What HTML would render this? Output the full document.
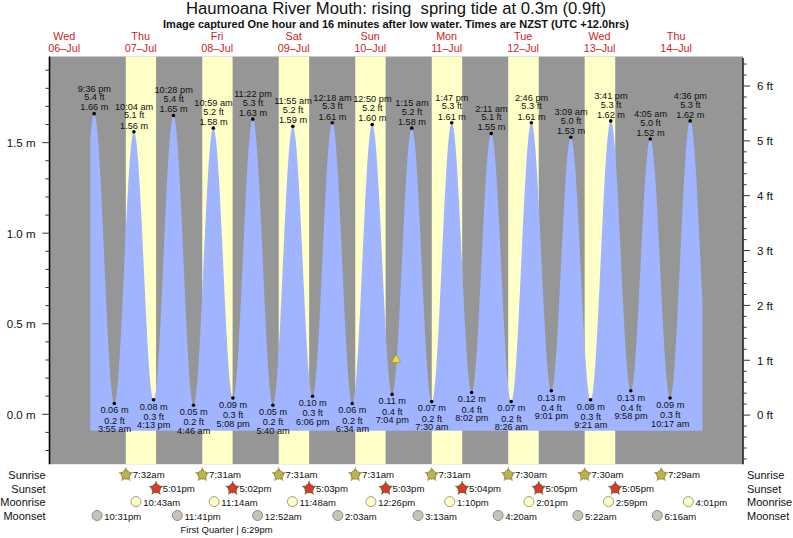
<!DOCTYPE html>
<html><head><meta charset="utf-8"><style>
html,body{margin:0;padding:0;background:#fff;width:793px;height:538px;overflow:hidden}
svg text{font-family:"Liberation Sans",sans-serif}
</style></head><body>
<svg width="793" height="538" viewBox="0 0 793 538" style="display:block">
<rect x="0" y="0" width="793" height="538" fill="#fff"/>
<rect x="50" y="56.5" width="693" height="407.7" fill="#969696"/>
<rect x="125.83" y="56.5" width="30.23" height="407.7" fill="#ffffc8"/>
<rect x="202.27" y="56.5" width="30.33" height="407.7" fill="#ffffc8"/>
<rect x="278.77" y="56.5" width="30.38" height="407.7" fill="#ffffc8"/>
<rect x="355.26" y="56.5" width="30.38" height="407.7" fill="#ffffc8"/>
<rect x="431.75" y="56.5" width="30.44" height="407.7" fill="#ffffc8"/>
<rect x="508.19" y="56.5" width="30.54" height="407.7" fill="#ffffc8"/>
<rect x="584.68" y="56.5" width="30.54" height="407.7" fill="#ffffc8"/>
<path d="M90.20,430.8 L90.20,140.10 L90.47,136.79 L90.73,133.67 L91.00,130.76 L91.26,128.07 L91.53,125.60 L91.79,123.35 L92.06,121.33 L92.33,119.54 L92.59,117.98 L92.86,116.66 L93.12,115.58 L93.39,114.74 L93.65,114.14 L93.92,113.79 L94.18,113.67 L94.45,113.81 L94.72,114.19 L94.98,114.82 L95.25,115.70 L95.51,116.83 L95.78,118.19 L96.04,119.80 L96.31,121.65 L96.58,123.73 L96.84,126.05 L97.11,128.59 L97.37,131.35 L97.64,134.33 L97.90,137.53 L98.17,140.94 L98.43,144.54 L98.70,148.34 L98.97,152.34 L99.23,156.51 L99.50,160.86 L99.76,165.38 L100.03,170.06 L100.29,174.88 L100.56,179.86 L100.83,184.97 L101.09,190.20 L101.36,195.55 L101.62,201.01 L101.89,206.57 L102.15,212.22 L102.42,217.95 L102.69,223.75 L102.95,229.61 L103.22,235.52 L103.48,241.46 L103.75,247.44 L104.01,253.43 L104.28,259.44 L104.54,265.44 L104.81,271.43 L105.08,277.40 L105.34,283.34 L105.61,289.23 L105.87,295.07 L106.14,300.85 L106.40,306.56 L106.67,312.18 L106.94,317.71 L107.20,323.14 L107.47,328.46 L107.73,333.66 L108.00,338.73 L108.26,343.66 L108.53,348.45 L108.79,353.08 L109.06,357.55 L109.33,361.85 L109.59,365.97 L109.86,369.90 L110.12,373.65 L110.39,377.20 L110.65,380.54 L110.92,383.68 L111.19,386.59 L111.45,389.29 L111.72,391.77 L111.98,394.01 L112.25,396.03 L112.51,397.80 L112.78,399.34 L113.05,400.64 L113.31,401.69 L113.58,402.50 L113.84,403.05 L114.11,403.36 L114.37,403.43 L114.64,403.24 L114.90,402.81 L115.17,402.13 L115.44,401.21 L115.70,400.05 L115.97,398.65 L116.23,397.01 L116.50,395.13 L116.76,393.03 L117.03,390.70 L117.30,388.14 L117.56,385.37 L117.83,382.38 L118.09,379.18 L118.36,375.79 L118.62,372.19 L118.89,368.41 L119.15,364.44 L119.42,360.30 L119.69,355.99 L119.95,351.52 L120.22,346.90 L120.48,342.13 L120.75,337.23 L121.01,332.21 L121.28,327.06 L121.55,321.81 L121.81,316.46 L122.08,311.02 L122.34,305.50 L122.61,299.92 L122.87,294.27 L123.14,288.58 L123.40,282.85 L123.67,277.09 L123.94,271.32 L124.20,265.54 L124.47,259.76 L124.73,253.99 L125.00,248.25 L125.26,242.55 L125.53,236.89 L125.80,231.29 L126.06,225.75 L126.33,220.29 L126.59,214.91 L126.86,209.63 L127.12,204.45 L127.39,199.39 L127.66,194.46 L127.92,189.65 L128.19,184.99 L128.45,180.47 L128.72,176.12 L128.98,171.93 L129.25,167.91 L129.51,164.08 L129.78,160.43 L130.05,156.97 L130.31,153.72 L130.58,150.67 L130.84,147.84 L131.11,145.22 L131.37,142.83 L131.64,140.65 L131.91,138.72 L132.17,137.01 L132.44,135.54 L132.70,134.31 L132.97,133.32 L133.23,132.57 L133.50,132.07 L133.76,131.82 L134.03,131.81 L134.30,132.04 L134.56,132.52 L134.83,133.24 L135.09,134.20 L135.36,135.39 L135.62,136.83 L135.89,138.49 L136.16,140.39 L136.42,142.52 L136.69,144.87 L136.95,147.43 L137.22,150.22 L137.48,153.21 L137.75,156.40 L138.02,159.80 L138.28,163.38 L138.55,167.15 L138.81,171.10 L139.08,175.23 L139.34,179.51 L139.61,183.96 L139.87,188.55 L140.14,193.28 L140.41,198.14 L140.67,203.12 L140.94,208.22 L141.20,213.43 L141.47,218.72 L141.73,224.11 L142.00,229.57 L142.27,235.09 L142.53,240.67 L142.80,246.30 L143.06,251.96 L143.33,257.64 L143.59,263.34 L143.86,269.05 L144.12,274.75 L144.39,280.43 L144.66,286.09 L144.92,291.71 L145.19,297.28 L145.45,302.80 L145.72,308.24 L145.98,313.62 L146.25,318.90 L146.52,324.09 L146.78,329.17 L147.05,334.14 L147.31,338.99 L147.58,343.70 L147.84,348.27 L148.11,352.69 L148.38,356.95 L148.64,361.05 L148.91,364.98 L149.17,368.73 L149.44,372.28 L149.70,375.65 L149.97,378.82 L150.23,381.78 L150.50,384.53 L150.77,387.07 L151.03,389.39 L151.30,391.48 L151.56,393.35 L151.83,394.98 L152.09,396.38 L152.36,397.55 L152.63,398.47 L152.89,399.16 L153.16,399.60 L153.42,399.80 L153.69,399.76 L153.95,399.46 L154.22,398.92 L154.48,398.13 L154.75,397.09 L155.02,395.81 L155.28,394.29 L155.55,392.53 L155.81,390.53 L156.08,388.29 L156.34,385.83 L156.61,383.14 L156.88,380.23 L157.14,377.11 L157.41,373.78 L157.67,370.24 L157.94,366.51 L158.20,362.58 L158.47,358.48 L158.74,354.19 L159.00,349.73 L159.27,345.12 L159.53,340.35 L159.80,335.43 L160.06,330.38 L160.33,325.20 L160.59,319.90 L160.86,314.49 L161.13,308.99 L161.39,303.39 L161.66,297.71 L161.92,291.96 L162.19,286.16 L162.45,280.30 L162.72,274.40 L162.99,268.47 L163.25,262.53 L163.52,256.57 L163.78,250.62 L164.05,244.68 L164.31,238.76 L164.58,232.87 L164.84,227.03 L165.11,221.25 L165.38,215.52 L165.64,209.87 L165.91,204.31 L166.17,198.83 L166.44,193.47 L166.70,188.21 L166.97,183.07 L167.24,178.07 L167.50,173.21 L167.77,168.49 L168.03,163.93 L168.30,159.54 L168.56,155.31 L168.83,151.27 L169.10,147.41 L169.36,143.75 L169.63,140.29 L169.89,137.03 L170.16,133.99 L170.42,131.16 L170.69,128.55 L170.95,126.17 L171.22,124.02 L171.49,122.11 L171.75,120.43 L172.02,118.99 L172.28,117.80 L172.55,116.85 L172.81,116.15 L173.08,115.70 L173.35,115.50 L173.61,115.54 L173.88,115.84 L174.14,116.39 L174.41,117.18 L174.67,118.22 L174.94,119.51 L175.20,121.04 L175.47,122.82 L175.74,124.82 L176.00,127.07 L176.27,129.54 L176.53,132.24 L176.80,135.16 L177.06,138.30 L177.33,141.65 L177.60,145.20 L177.86,148.95 L178.13,152.90 L178.39,157.03 L178.66,161.33 L178.92,165.81 L179.19,170.46 L179.46,175.26 L179.72,180.20 L179.99,185.28 L180.25,190.50 L180.52,195.83 L180.78,201.28 L181.05,206.82 L181.31,212.46 L181.58,218.19 L181.85,223.98 L182.11,229.84 L182.38,235.75 L182.64,241.70 L182.91,247.69 L183.17,253.70 L183.44,259.72 L183.71,265.74 L183.97,271.75 L184.24,277.74 L184.50,283.70 L184.77,289.62 L185.03,295.49 L185.30,301.30 L185.56,307.04 L185.83,312.70 L186.10,318.27 L186.36,323.73 L186.63,329.09 L186.89,334.33 L187.16,339.45 L187.42,344.42 L187.69,349.25 L187.96,353.93 L188.22,358.44 L188.49,362.79 L188.75,366.96 L189.02,370.94 L189.28,374.74 L189.55,378.33 L189.81,381.73 L190.08,384.91 L190.35,387.88 L190.61,390.63 L190.88,393.15 L191.14,395.44 L191.41,397.50 L191.67,399.32 L191.94,400.91 L192.21,402.25 L192.47,403.34 L192.74,404.19 L193.00,404.79 L193.27,405.14 L193.53,405.24 L193.80,405.10 L194.07,404.70 L194.33,404.07 L194.60,403.19 L194.86,402.06 L195.13,400.70 L195.39,399.10 L195.66,397.26 L195.92,395.20 L196.19,392.90 L196.46,390.38 L196.72,387.65 L196.99,384.69 L197.25,381.53 L197.52,378.16 L197.78,374.60 L198.05,370.85 L198.32,366.91 L198.58,362.79 L198.85,358.50 L199.11,354.05 L199.38,349.45 L199.64,344.69 L199.91,339.80 L200.17,334.78 L200.44,329.64 L200.71,324.39 L200.97,319.04 L201.24,313.59 L201.50,308.06 L201.77,302.45 L202.03,296.78 L202.30,291.06 L202.57,285.30 L202.83,279.50 L203.10,273.68 L203.36,267.85 L203.63,262.02 L203.89,256.19 L204.16,250.38 L204.43,244.60 L204.69,238.86 L204.96,233.18 L205.22,227.54 L205.49,221.98 L205.75,216.50 L206.02,211.11 L206.28,205.82 L206.55,200.63 L206.82,195.56 L207.08,190.62 L207.35,185.81 L207.61,181.15 L207.88,176.63 L208.14,172.28 L208.41,168.10 L208.68,164.09 L208.94,160.26 L209.21,156.62 L209.47,153.18 L209.74,149.93 L210.00,146.90 L210.27,144.07 L210.53,141.47 L210.80,139.08 L211.07,136.93 L211.33,135.00 L211.60,133.31 L211.86,131.85 L212.13,130.63 L212.39,129.66 L212.66,128.92 L212.93,128.44 L213.19,128.19 L213.46,128.19 L213.72,128.44 L213.99,128.93 L214.25,129.66 L214.52,130.64 L214.79,131.86 L215.05,133.31 L215.32,135.00 L215.58,136.92 L215.85,139.07 L216.11,141.44 L216.38,144.04 L216.64,146.85 L216.91,149.87 L217.18,153.10 L217.44,156.52 L217.71,160.14 L217.97,163.95 L218.24,167.93 L218.50,172.09 L218.77,176.41 L219.04,180.89 L219.30,185.52 L219.57,190.29 L219.83,195.19 L220.10,200.21 L220.36,205.35 L220.63,210.59 L220.89,215.93 L221.16,221.35 L221.43,226.85 L221.69,232.42 L221.96,238.04 L222.22,243.70 L222.49,249.40 L222.75,255.13 L223.02,260.87 L223.29,266.61 L223.55,272.35 L223.82,278.07 L224.08,283.76 L224.35,289.42 L224.61,295.03 L224.88,300.58 L225.15,306.06 L225.41,311.46 L225.68,316.78 L225.94,322.00 L226.21,327.11 L226.47,332.11 L226.74,336.98 L227.00,341.72 L227.27,346.31 L227.54,350.76 L227.80,355.04 L228.07,359.16 L228.33,363.11 L228.60,366.87 L228.86,370.44 L229.13,373.82 L229.40,377.00 L229.66,379.98 L229.93,382.74 L230.19,385.28 L230.46,387.61 L230.72,389.70 L230.99,391.57 L231.25,393.21 L231.52,394.61 L231.79,395.77 L232.05,396.69 L232.32,397.37 L232.58,397.80 L232.85,397.99 L233.11,397.94 L233.38,397.64 L233.65,397.09 L233.91,396.30 L234.18,395.27 L234.44,393.99 L234.71,392.48 L234.97,390.73 L235.24,388.75 L235.51,386.54 L235.77,384.10 L236.04,381.44 L236.30,378.56 L236.57,375.48 L236.83,372.18 L237.10,368.69 L237.36,365.00 L237.63,361.12 L237.90,357.06 L238.16,352.83 L238.43,348.43 L238.69,343.88 L238.96,339.17 L239.22,334.32 L239.49,329.34 L239.76,324.23 L240.02,319.01 L240.29,313.68 L240.55,308.25 L240.82,302.73 L241.08,297.14 L241.35,291.48 L241.61,285.76 L241.88,279.99 L242.15,274.19 L242.41,268.35 L242.68,262.50 L242.94,256.65 L243.21,250.79 L243.47,244.95 L243.74,239.14 L244.01,233.35 L244.27,227.62 L244.54,221.93 L244.80,216.32 L245.07,210.77 L245.33,205.31 L245.60,199.95 L245.86,194.69 L246.13,189.54 L246.40,184.51 L246.66,179.61 L246.93,174.85 L247.19,170.24 L247.46,165.79 L247.72,161.50 L247.99,157.38 L248.26,153.44 L248.52,149.68 L248.79,146.12 L249.05,142.76 L249.32,139.60 L249.58,136.65 L249.85,133.91 L250.12,131.39 L250.38,129.10 L250.65,127.04 L250.91,125.21 L251.18,123.61 L251.44,122.26 L251.71,121.14 L251.97,120.26 L252.24,119.63 L252.51,119.25 L252.77,119.11 L253.04,119.21 L253.30,119.57 L253.57,120.17 L253.83,121.01 L254.10,122.10 L254.37,123.43 L254.63,125.00 L254.90,126.81 L255.16,128.85 L255.43,131.12 L255.69,133.62 L255.96,136.34 L256.22,139.28 L256.49,142.43 L256.76,145.78 L257.02,149.34 L257.29,153.09 L257.55,157.03 L257.82,161.16 L258.08,165.45 L258.35,169.92 L258.62,174.54 L258.88,179.31 L259.15,184.23 L259.41,189.28 L259.68,194.46 L259.94,199.76 L260.21,205.16 L260.48,210.66 L260.74,216.25 L261.01,221.92 L261.27,227.66 L261.54,233.46 L261.80,239.31 L262.07,245.19 L262.33,251.11 L262.60,257.05 L262.87,262.99 L263.13,268.93 L263.40,274.87 L263.66,280.78 L263.93,286.66 L264.19,292.49 L264.46,298.27 L264.73,304.00 L264.99,309.64 L265.26,315.21 L265.52,320.69 L265.79,326.06 L266.05,331.32 L266.32,336.47 L266.58,341.48 L266.85,346.36 L267.12,351.10 L267.38,355.68 L267.65,360.10 L267.91,364.34 L268.18,368.42 L268.44,372.31 L268.71,376.01 L268.98,379.51 L269.24,382.81 L269.51,385.90 L269.77,388.78 L270.04,391.44 L270.30,393.87 L270.57,396.08 L270.84,398.06 L271.10,399.80 L271.37,401.31 L271.63,402.57 L271.90,403.60 L272.16,404.37 L272.43,404.91 L272.69,405.19 L272.96,405.23 L273.23,405.02 L273.49,404.57 L273.76,403.88 L274.02,402.94 L274.29,401.77 L274.55,400.35 L274.82,398.70 L275.09,396.81 L275.35,394.70 L275.62,392.36 L275.88,389.79 L276.15,387.01 L276.41,384.02 L276.68,380.82 L276.94,377.42 L277.21,373.82 L277.48,370.03 L277.74,366.06 L278.01,361.91 L278.27,357.60 L278.54,353.12 L278.80,348.49 L279.07,343.71 L279.34,338.80 L279.60,333.76 L279.87,328.60 L280.13,323.33 L280.40,317.96 L280.66,312.50 L280.93,306.96 L281.20,301.34 L281.46,295.66 L281.73,289.93 L281.99,284.16 L282.26,278.35 L282.52,272.52 L282.79,266.68 L283.05,260.84 L283.32,255.01 L283.59,249.20 L283.85,243.41 L284.12,237.67 L284.38,231.97 L284.65,226.34 L284.91,220.77 L285.18,215.28 L285.45,209.88 L285.71,204.58 L285.98,199.39 L286.24,194.31 L286.51,189.36 L286.77,184.54 L287.04,179.87 L287.30,175.34 L287.57,170.98 L287.84,166.78 L288.10,162.75 L288.37,158.91 L288.63,155.25 L288.90,151.79 L289.16,148.52 L289.43,145.47 L289.70,142.62 L289.96,139.99 L290.23,137.58 L290.49,135.40 L290.76,133.44 L291.02,131.72 L291.29,130.23 L291.56,128.98 L291.82,127.97 L292.09,127.21 L292.35,126.68 L292.62,126.40 L292.88,126.37 L293.15,126.57 L293.41,127.02 L293.68,127.71 L293.95,128.64 L294.21,129.80 L294.48,131.21 L294.74,132.84 L295.01,134.71 L295.27,136.80 L295.54,139.11 L295.81,141.65 L296.07,144.40 L296.34,147.35 L296.60,150.52 L296.87,153.88 L297.13,157.43 L297.40,161.17 L297.66,165.09 L297.93,169.18 L298.20,173.44 L298.46,177.85 L298.73,182.42 L298.99,187.12 L299.26,191.96 L299.52,196.92 L299.79,202.00 L300.06,207.19 L300.32,212.47 L300.59,217.84 L300.85,223.28 L301.12,228.80 L301.38,234.37 L301.65,239.99 L301.92,245.65 L302.18,251.34 L302.45,257.04 L302.71,262.75 L302.98,268.46 L303.24,274.16 L303.51,279.83 L303.77,285.48 L304.04,291.07 L304.31,296.62 L304.57,302.10 L304.84,307.50 L305.10,312.83 L305.37,318.06 L305.63,323.19 L305.90,328.21 L306.17,333.11 L306.43,337.88 L306.70,342.51 L306.96,347.00 L307.23,351.33 L307.49,355.50 L307.76,359.51 L308.02,363.33 L308.29,366.98 L308.56,370.43 L308.82,373.69 L309.09,376.75 L309.35,379.60 L309.62,382.24 L309.88,384.66 L310.15,386.86 L310.42,388.83 L310.68,390.58 L310.95,392.09 L311.21,393.37 L311.48,394.42 L311.74,395.22 L312.01,395.78 L312.27,396.11 L312.54,396.19 L312.81,396.02 L313.07,395.62 L313.34,394.97 L313.60,394.08 L313.87,392.95 L314.13,391.58 L314.40,389.98 L314.67,388.14 L314.93,386.07 L315.20,383.78 L315.46,381.27 L315.73,378.54 L315.99,375.60 L316.26,372.44 L316.53,369.09 L316.79,365.55 L317.06,361.81 L317.32,357.89 L317.59,353.80 L317.85,349.53 L318.12,345.11 L318.38,340.53 L318.65,335.81 L318.92,330.96 L319.18,325.97 L319.45,320.87 L319.71,315.66 L319.98,310.34 L320.24,304.94 L320.51,299.46 L320.78,293.90 L321.04,288.28 L321.31,282.61 L321.57,276.90 L321.84,271.16 L322.10,265.40 L322.37,259.63 L322.63,253.86 L322.90,248.09 L323.17,242.35 L323.43,236.64 L323.70,230.97 L323.96,225.35 L324.23,219.79 L324.49,214.30 L324.76,208.89 L325.03,203.57 L325.29,198.35 L325.56,193.24 L325.82,188.25 L326.09,183.39 L326.35,178.66 L326.62,174.07 L326.89,169.64 L327.15,165.37 L327.42,161.26 L327.68,157.33 L327.95,153.59 L328.21,150.03 L328.48,146.66 L328.74,143.50 L329.01,140.55 L329.28,137.80 L329.54,135.28 L329.81,132.97 L330.07,130.89 L330.34,129.04 L330.60,127.42 L330.87,126.04 L331.14,124.90 L331.40,123.99 L331.67,123.33 L331.93,122.91 L332.20,122.74 L332.46,122.80 L332.73,123.12 L332.99,123.67 L333.26,124.47 L333.53,125.51 L333.79,126.80 L334.06,128.32 L334.32,130.07 L334.59,132.06 L334.85,134.28 L335.12,136.72 L335.39,139.38 L335.65,142.26 L335.92,145.35 L336.18,148.64 L336.45,152.13 L336.71,155.82 L336.98,159.70 L337.25,163.75 L337.51,167.98 L337.78,172.37 L338.04,176.93 L338.31,181.63 L338.57,186.48 L338.84,191.46 L339.10,196.56 L339.37,201.78 L339.64,207.11 L339.90,212.53 L340.17,218.05 L340.43,223.64 L340.70,229.30 L340.96,235.02 L341.23,240.79 L341.50,246.59 L341.76,252.43 L342.03,258.29 L342.29,264.15 L342.56,270.01 L342.82,275.86 L343.09,281.69 L343.35,287.48 L343.62,293.23 L343.89,298.93 L344.15,304.57 L344.42,310.13 L344.68,315.62 L344.95,321.01 L345.21,326.30 L345.48,331.48 L345.75,336.54 L346.01,341.47 L346.28,346.26 L346.54,350.91 L346.81,355.41 L347.07,359.74 L347.34,363.91 L347.61,367.90 L347.87,371.71 L348.14,375.32 L348.40,378.75 L348.67,381.97 L348.93,384.98 L349.20,387.78 L349.46,390.36 L349.73,392.72 L350.00,394.85 L350.26,396.76 L350.53,398.43 L350.79,399.86 L351.06,401.06 L351.32,402.01 L351.59,402.72 L351.86,403.19 L352.12,403.41 L352.39,403.39 L352.65,403.13 L352.92,402.62 L353.18,401.87 L353.45,400.88 L353.71,399.65 L353.98,398.18 L354.25,396.48 L354.51,394.55 L354.78,392.39 L355.04,390.01 L355.31,387.41 L355.57,384.59 L355.84,381.56 L356.11,378.32 L356.37,374.89 L356.64,371.26 L356.90,367.45 L357.17,363.45 L357.43,359.28 L357.70,354.95 L357.97,350.45 L358.23,345.81 L358.50,341.02 L358.76,336.09 L359.03,331.05 L359.29,325.88 L359.56,320.61 L359.82,315.23 L360.09,309.77 L360.36,304.23 L360.62,298.62 L360.89,292.95 L361.15,287.22 L361.42,281.46 L361.68,275.67 L361.95,269.85 L362.22,264.03 L362.48,258.20 L362.75,252.39 L363.01,246.59 L363.28,240.83 L363.54,235.10 L363.81,229.43 L364.07,223.82 L364.34,218.27 L364.61,212.81 L364.87,207.44 L365.14,202.16 L365.40,197.00 L365.67,191.95 L365.93,187.02 L366.20,182.23 L366.47,177.58 L366.73,173.09 L367.00,168.75 L367.26,164.58 L367.53,160.58 L367.79,156.76 L368.06,153.13 L368.32,149.70 L368.59,146.46 L368.86,143.43 L369.12,140.60 L369.39,138.00 L369.65,135.61 L369.92,133.45 L370.18,131.51 L370.45,129.81 L370.72,128.34 L370.98,127.11 L371.25,126.12 L371.51,125.36 L371.78,124.85 L372.04,124.58 L372.31,124.56 L372.58,124.77 L372.84,125.22 L373.11,125.91 L373.37,126.84 L373.64,127.99 L373.90,129.38 L374.17,131.00 L374.43,132.85 L374.70,134.92 L374.97,137.21 L375.23,139.71 L375.50,142.43 L375.76,145.35 L376.03,148.48 L376.29,151.80 L376.56,155.31 L376.83,159.00 L377.09,162.87 L377.36,166.91 L377.62,171.11 L377.89,175.47 L378.15,179.98 L378.42,184.63 L378.68,189.41 L378.95,194.32 L379.22,199.34 L379.48,204.46 L379.75,209.68 L380.01,214.99 L380.28,220.38 L380.54,225.84 L380.81,231.36 L381.08,236.92 L381.34,242.53 L381.61,248.16 L381.87,253.82 L382.14,259.49 L382.40,265.15 L382.67,270.81 L382.94,276.44 L383.20,282.05 L383.47,287.61 L383.73,293.13 L384.00,298.59 L384.26,303.98 L384.53,309.28 L384.79,314.51 L385.06,319.63 L385.33,324.65 L385.59,329.55 L385.86,334.33 L386.12,338.98 L386.39,343.48 L386.65,347.84 L386.92,352.05 L387.19,356.09 L387.45,359.96 L387.72,363.65 L387.98,367.15 L388.25,370.47 L388.51,373.59 L388.78,376.52 L389.04,379.23 L389.31,381.73 L389.58,384.02 L389.84,386.09 L390.11,387.93 L390.37,389.55 L390.64,390.94 L390.90,392.09 L391.17,393.01 L391.44,393.70 L391.70,394.15 L391.97,394.36 L392.23,394.33 L392.50,394.07 L392.76,393.57 L393.03,392.83 L393.30,391.85 L393.56,390.64 L393.83,389.20 L394.09,387.53 L394.36,385.63 L394.62,383.51 L394.89,381.17 L395.15,378.61 L395.42,375.85 L395.69,372.88 L395.95,369.71 L396.22,366.34 L396.48,362.79 L396.75,359.05 L397.01,355.14 L397.28,351.06 L397.55,346.82 L397.81,342.43 L398.08,337.89 L398.34,333.21 L398.61,328.41 L398.87,323.48 L399.14,318.44 L399.40,313.30 L399.67,308.07 L399.94,302.75 L400.20,297.36 L400.47,291.91 L400.73,286.39 L401.00,280.84 L401.26,275.25 L401.53,269.63 L401.80,264.00 L402.06,258.36 L402.33,252.73 L402.59,247.12 L402.86,241.53 L403.12,235.97 L403.39,230.46 L403.66,225.01 L403.92,219.62 L404.19,214.30 L404.45,209.07 L404.72,203.94 L404.98,198.90 L405.25,193.98 L405.51,189.18 L405.78,184.51 L406.05,179.97 L406.31,175.58 L406.58,171.35 L406.84,167.27 L407.11,163.37 L407.37,159.64 L407.64,156.09 L407.91,152.73 L408.17,149.57 L408.44,146.60 L408.70,143.84 L408.97,141.30 L409.23,138.96 L409.50,136.85 L409.76,134.96 L410.03,133.29 L410.30,131.86 L410.56,130.66 L410.83,129.69 L411.09,128.95 L411.36,128.46 L411.62,128.20 L411.89,128.18 L412.16,128.40 L412.42,128.86 L412.69,129.56 L412.95,130.50 L413.22,131.67 L413.48,133.08 L413.75,134.72 L414.02,136.58 L414.28,138.67 L414.55,140.99 L414.81,143.52 L415.08,146.26 L415.34,149.21 L415.61,152.37 L415.87,155.72 L416.14,159.26 L416.41,162.99 L416.67,166.90 L416.94,170.98 L417.20,175.22 L417.47,179.62 L417.73,184.18 L418.00,188.87 L418.27,193.70 L418.53,198.65 L418.80,203.71 L419.06,208.89 L419.33,214.16 L419.59,219.53 L419.86,224.97 L420.12,230.48 L420.39,236.05 L420.66,241.67 L420.92,247.34 L421.19,253.03 L421.45,258.75 L421.72,264.47 L421.98,270.20 L422.25,275.92 L422.52,281.62 L422.78,287.29 L423.05,292.92 L423.31,298.50 L423.58,304.02 L423.84,309.47 L424.11,314.84 L424.38,320.13 L424.64,325.32 L424.91,330.41 L425.17,335.37 L425.44,340.22 L425.70,344.93 L425.97,349.51 L426.23,353.93 L426.50,358.20 L426.77,362.30 L427.03,366.23 L427.30,369.99 L427.56,373.56 L427.83,376.94 L428.09,380.12 L428.36,383.11 L428.63,385.88 L428.89,388.44 L429.16,390.79 L429.42,392.91 L429.69,394.81 L429.95,396.48 L430.22,397.92 L430.48,399.13 L430.75,400.10 L431.02,400.83 L431.28,401.33 L431.55,401.58 L431.81,401.60 L432.08,401.37 L432.34,400.91 L432.61,400.20 L432.88,399.25 L433.14,398.06 L433.41,396.64 L433.67,394.99 L433.94,393.10 L434.20,390.99 L434.47,388.65 L434.73,386.09 L435.00,383.32 L435.27,380.34 L435.53,377.15 L435.80,373.77 L436.06,370.19 L436.33,366.42 L436.59,362.47 L436.86,358.35 L437.13,354.05 L437.39,349.60 L437.66,345.00 L437.92,340.26 L438.19,335.38 L438.45,330.37 L438.72,325.24 L438.99,320.01 L439.25,314.67 L439.52,309.24 L439.78,303.73 L440.05,298.15 L440.31,292.51 L440.58,286.81 L440.84,281.07 L441.11,275.30 L441.38,269.50 L441.64,263.70 L441.91,257.89 L442.17,252.08 L442.44,246.30 L442.70,240.54 L442.97,234.82 L443.24,229.15 L443.50,223.53 L443.77,217.98 L444.03,212.51 L444.30,207.13 L444.56,201.84 L444.83,196.65 L445.09,191.58 L445.36,186.63 L445.63,181.81 L445.89,177.14 L446.16,172.61 L446.42,168.23 L446.69,164.02 L446.95,159.98 L447.22,156.12 L447.49,152.44 L447.75,148.95 L448.02,145.65 L448.28,142.56 L448.55,139.68 L448.81,137.01 L449.08,134.56 L449.35,132.33 L449.61,130.32 L449.88,128.55 L450.14,127.00 L450.41,125.69 L450.67,124.62 L450.94,123.79 L451.20,123.19 L451.47,122.84 L451.74,122.73 L452.00,122.86 L452.27,123.22 L452.53,123.82 L452.80,124.66 L453.06,125.73 L453.33,127.03 L453.60,128.56 L453.86,130.32 L454.13,132.30 L454.39,134.50 L454.66,136.91 L454.92,139.54 L455.19,142.38 L455.45,145.42 L455.72,148.65 L455.99,152.08 L456.25,155.69 L456.52,159.48 L456.78,163.44 L457.05,167.57 L457.31,171.85 L457.58,176.29 L457.85,180.87 L458.11,185.58 L458.38,190.42 L458.64,195.38 L458.91,200.45 L459.17,205.62 L459.44,210.88 L459.71,216.22 L459.97,221.63 L460.24,227.11 L460.50,232.64 L460.77,238.21 L461.03,243.82 L461.30,249.46 L461.56,255.10 L461.83,260.75 L462.10,266.40 L462.36,272.03 L462.63,277.64 L462.89,283.21 L463.16,288.73 L463.42,294.21 L463.69,299.61 L463.96,304.95 L464.22,310.20 L464.49,315.36 L464.75,320.41 L465.02,325.36 L465.28,330.19 L465.55,334.89 L465.81,339.45 L466.08,343.88 L466.35,348.15 L466.61,352.26 L466.88,356.20 L467.14,359.98 L467.41,363.57 L467.67,366.98 L467.94,370.19 L468.21,373.21 L468.47,376.02 L468.74,378.63 L469.00,381.03 L469.27,383.21 L469.53,385.16 L469.80,386.90 L470.07,388.41 L470.33,389.68 L470.60,390.73 L470.86,391.54 L471.13,392.12 L471.39,392.46 L471.66,392.57 L471.92,392.44 L472.19,392.07 L472.46,391.47 L472.72,390.64 L472.99,389.58 L473.25,388.29 L473.52,386.77 L473.78,385.03 L474.05,383.06 L474.32,380.88 L474.58,378.49 L474.85,375.88 L475.11,373.08 L475.38,370.07 L475.64,366.87 L475.91,363.48 L476.17,359.90 L476.44,356.16 L476.71,352.24 L476.97,348.16 L477.24,343.93 L477.50,339.55 L477.77,335.04 L478.03,330.39 L478.30,325.62 L478.57,320.74 L478.83,315.75 L479.10,310.67 L479.36,305.50 L479.63,300.26 L479.89,294.94 L480.16,289.57 L480.43,284.15 L480.69,278.70 L480.96,273.21 L481.22,267.71 L481.49,262.20 L481.75,256.68 L482.02,251.19 L482.28,245.71 L482.55,240.26 L482.82,234.86 L483.08,229.51 L483.35,224.21 L483.61,218.99 L483.88,213.85 L484.14,208.80 L484.41,203.84 L484.68,199.00 L484.94,194.26 L485.21,189.66 L485.47,185.19 L485.74,180.85 L486.00,176.67 L486.27,172.64 L486.53,168.78 L486.80,165.09 L487.07,161.58 L487.33,158.25 L487.60,155.11 L487.86,152.16 L488.13,149.42 L488.39,146.88 L488.66,144.56 L488.93,142.44 L489.19,140.55 L489.46,138.88 L489.72,137.43 L489.99,136.22 L490.25,135.23 L490.52,134.47 L490.78,133.95 L491.05,133.66 L491.32,133.60 L491.58,133.78 L491.85,134.20 L492.11,134.85 L492.38,135.73 L492.64,136.84 L492.91,138.19 L493.18,139.76 L493.44,141.55 L493.71,143.57 L493.97,145.80 L494.24,148.25 L494.50,150.90 L494.77,153.77 L495.04,156.83 L495.30,160.08 L495.57,163.53 L495.83,167.15 L496.10,170.96 L496.36,174.93 L496.63,179.07 L496.89,183.36 L497.16,187.80 L497.43,192.37 L497.69,197.08 L497.96,201.92 L498.22,206.87 L498.49,211.93 L498.75,217.08 L499.02,222.32 L499.29,227.65 L499.55,233.04 L499.82,238.49 L500.08,244.00 L500.35,249.54 L500.61,255.12 L500.88,260.72 L501.14,266.33 L501.41,271.94 L501.68,277.55 L501.94,283.14 L502.21,288.70 L502.47,294.22 L502.74,299.70 L503.00,305.12 L503.27,310.48 L503.54,315.76 L503.80,320.95 L504.07,326.06 L504.33,331.05 L504.60,335.94 L504.86,340.71 L505.13,345.35 L505.40,349.86 L505.66,354.21 L505.93,358.42 L506.19,362.47 L506.46,366.35 L506.72,370.06 L506.99,373.59 L507.25,376.93 L507.52,380.08 L507.79,383.03 L508.05,385.78 L508.32,388.33 L508.58,390.66 L508.85,392.77 L509.11,394.67 L509.38,396.34 L509.65,397.79 L509.91,399.01 L510.18,400.00 L510.44,400.75 L510.71,401.27 L510.97,401.56 L511.24,401.61 L511.50,401.43 L511.77,401.01 L512.04,400.34 L512.30,399.45 L512.57,398.32 L512.83,396.95 L513.10,395.36 L513.36,393.54 L513.63,391.49 L513.90,389.22 L514.16,386.74 L514.43,384.04 L514.69,381.14 L514.96,378.03 L515.22,374.72 L515.49,371.22 L515.76,367.53 L516.02,363.67 L516.29,359.63 L516.55,355.42 L516.82,351.06 L517.08,346.54 L517.35,341.88 L517.61,337.08 L517.88,332.16 L518.15,327.11 L518.41,321.96 L518.68,316.70 L518.94,311.35 L519.21,305.91 L519.47,300.40 L519.74,294.83 L520.01,289.20 L520.27,283.52 L520.54,277.81 L520.80,272.06 L521.07,266.31 L521.33,260.54 L521.60,254.78 L521.86,249.03 L522.13,243.31 L522.40,237.61 L522.66,231.96 L522.93,226.36 L523.19,220.82 L523.46,215.35 L523.72,209.96 L523.99,204.66 L524.26,199.46 L524.52,194.37 L524.79,189.39 L525.05,184.53 L525.32,179.81 L525.58,175.23 L525.85,170.80 L526.12,166.52 L526.38,162.41 L526.65,158.47 L526.91,154.71 L527.18,151.13 L527.44,147.73 L527.71,144.54 L527.97,141.54 L528.24,138.76 L528.51,136.18 L528.77,133.82 L529.04,131.67 L529.30,129.76 L529.57,128.06 L529.83,126.60 L530.10,125.37 L530.37,124.37 L530.63,123.60 L530.90,123.08 L531.16,122.79 L531.43,122.74 L531.69,122.92 L531.96,123.34 L532.22,124.00 L532.49,124.89 L532.76,126.01 L533.02,127.35 L533.29,128.93 L533.55,130.73 L533.82,132.75 L534.08,134.99 L534.35,137.44 L534.62,140.10 L534.88,142.97 L535.15,146.03 L535.41,149.29 L535.68,152.74 L535.94,156.37 L536.21,160.18 L536.48,164.16 L536.74,168.30 L537.01,172.59 L537.27,177.03 L537.54,181.61 L537.80,186.33 L538.07,191.16 L538.33,196.12 L538.60,201.18 L538.87,206.33 L539.13,211.58 L539.40,216.90 L539.66,222.29 L539.93,227.75 L540.19,233.25 L540.46,238.80 L540.73,244.38 L540.99,249.98 L541.26,255.59 L541.52,261.20 L541.79,266.81 L542.05,272.40 L542.32,277.96 L542.58,283.48 L542.85,288.96 L543.12,294.38 L543.38,299.73 L543.65,305.01 L543.91,310.20 L544.18,315.30 L544.44,320.30 L544.71,325.19 L544.98,329.95 L545.24,334.59 L545.51,339.09 L545.77,343.45 L546.04,347.65 L546.30,351.69 L546.57,355.57 L546.84,359.28 L547.10,362.80 L547.37,366.14 L547.63,369.28 L547.90,372.23 L548.16,374.98 L548.43,377.52 L548.69,379.84 L548.96,381.95 L549.23,383.84 L549.49,385.51 L549.76,386.95 L550.02,388.17 L550.29,389.15 L550.55,389.90 L550.82,390.42 L551.09,390.70 L551.35,390.75 L551.62,390.56 L551.88,390.15 L552.15,389.50 L552.41,388.63 L552.68,387.53 L552.94,386.20 L553.21,384.65 L553.48,382.88 L553.74,380.90 L554.01,378.70 L554.27,376.29 L554.54,373.68 L554.80,370.86 L555.07,367.86 L555.34,364.66 L555.60,361.28 L555.87,357.72 L556.13,354.00 L556.40,350.11 L556.66,346.06 L556.93,341.86 L557.19,337.52 L557.46,333.04 L557.73,328.44 L557.99,323.73 L558.26,318.90 L558.52,313.97 L558.79,308.96 L559.05,303.86 L559.32,298.68 L559.59,293.45 L559.85,288.16 L560.12,282.83 L560.38,277.46 L560.65,272.07 L560.91,266.66 L561.18,261.25 L561.45,255.84 L561.71,250.45 L561.98,245.08 L562.24,239.75 L562.51,234.46 L562.77,229.23 L563.04,224.06 L563.30,218.96 L563.57,213.94 L563.84,209.02 L564.10,204.19 L564.37,199.48 L564.63,194.88 L564.90,190.40 L565.16,186.07 L565.43,181.87 L565.70,177.82 L565.96,173.93 L566.23,170.21 L566.49,166.65 L566.76,163.27 L567.02,160.08 L567.29,157.08 L567.55,154.27 L567.82,151.66 L568.09,149.25 L568.35,147.05 L568.62,145.07 L568.88,143.30 L569.15,141.76 L569.41,140.43 L569.68,139.34 L569.95,138.46 L570.21,137.82 L570.48,137.41 L570.74,137.23 L571.01,137.28 L571.27,137.56 L571.54,138.08 L571.81,138.83 L572.07,139.81 L572.34,141.02 L572.60,142.46 L572.87,144.12 L573.13,146.00 L573.40,148.11 L573.66,150.42 L573.93,152.95 L574.20,155.69 L574.46,158.62 L574.73,161.75 L574.99,165.07 L575.26,168.58 L575.52,172.27 L575.79,176.12 L576.06,180.14 L576.32,184.32 L576.59,188.65 L576.85,193.12 L577.12,197.73 L577.38,202.46 L577.65,207.31 L577.91,212.27 L578.18,217.33 L578.45,222.48 L578.71,227.71 L578.98,233.01 L579.24,238.38 L579.51,243.80 L579.77,249.27 L580.04,254.77 L580.31,260.30 L580.57,265.84 L580.84,271.38 L581.10,276.92 L581.37,282.44 L581.63,287.94 L581.90,293.41 L582.17,298.83 L582.43,304.20 L582.70,309.50 L582.96,314.73 L583.23,319.88 L583.49,324.93 L583.76,329.89 L584.02,334.73 L584.29,339.46 L584.56,344.06 L584.82,348.53 L585.09,352.85 L585.35,357.03 L585.62,361.04 L585.88,364.89 L586.15,368.57 L586.42,372.07 L586.68,375.39 L586.95,378.51 L587.21,381.44 L587.48,384.17 L587.74,386.69 L588.01,389.00 L588.27,391.09 L588.54,392.97 L588.81,394.63 L589.07,396.06 L589.34,397.26 L589.60,398.23 L589.87,398.97 L590.13,399.48 L590.40,399.76 L590.67,399.80 L590.93,399.60 L591.20,399.17 L591.46,398.50 L591.73,397.59 L591.99,396.45 L592.26,395.08 L592.53,393.47 L592.79,391.64 L593.06,389.58 L593.32,387.31 L593.59,384.81 L593.85,382.10 L594.12,379.19 L594.38,376.07 L594.65,372.76 L594.92,369.25 L595.18,365.55 L595.45,361.68 L595.71,357.63 L595.98,353.42 L596.24,349.05 L596.51,344.53 L596.78,339.86 L597.04,335.05 L597.31,330.12 L597.57,325.07 L597.84,319.91 L598.10,314.65 L598.37,309.29 L598.63,303.86 L598.90,298.34 L599.17,292.76 L599.43,287.13 L599.70,281.45 L599.96,275.74 L600.23,270.00 L600.49,264.24 L600.76,258.47 L601.03,252.71 L601.29,246.96 L601.56,241.24 L601.82,235.55 L602.09,229.89 L602.35,224.30 L602.62,218.76 L602.89,213.29 L603.15,207.91 L603.42,202.61 L603.68,197.42 L603.95,192.33 L604.21,187.36 L604.48,182.51 L604.74,177.79 L605.01,173.22 L605.28,168.79 L605.54,164.53 L605.81,160.42 L606.07,156.49 L606.34,152.73 L606.60,149.16 L606.87,145.78 L607.14,142.59 L607.40,139.60 L607.67,136.83 L607.93,134.26 L608.20,131.91 L608.46,129.77 L608.73,127.86 L608.99,126.18 L609.26,124.73 L609.53,123.50 L609.79,122.52 L610.06,121.76 L610.32,121.25 L610.59,120.97 L610.85,120.93 L611.12,121.13 L611.39,121.56 L611.65,122.22 L611.92,123.11 L612.18,124.24 L612.45,125.59 L612.71,127.17 L612.98,128.97 L613.24,131.00 L613.51,133.24 L613.78,135.69 L614.04,138.35 L614.31,141.22 L614.57,144.28 L614.84,147.54 L615.10,150.98 L615.37,154.61 L615.64,158.42 L615.90,162.39 L616.17,166.53 L616.43,170.82 L616.70,175.25 L616.96,179.83 L617.23,184.54 L617.50,189.38 L617.76,194.32 L618.03,199.38 L618.29,204.53 L618.56,209.78 L618.82,215.10 L619.09,220.49 L619.35,225.95 L619.62,231.46 L619.89,237.01 L620.15,242.59 L620.42,248.19 L620.68,253.81 L620.95,259.43 L621.21,265.05 L621.48,270.65 L621.75,276.22 L622.01,281.76 L622.28,287.25 L622.54,292.69 L622.81,298.07 L623.07,303.37 L623.34,308.59 L623.60,313.72 L623.87,318.74 L624.14,323.66 L624.40,328.46 L624.67,333.14 L624.93,337.67 L625.20,342.07 L625.46,346.32 L625.73,350.41 L626.00,354.34 L626.26,358.09 L626.53,361.67 L626.79,365.07 L627.06,368.27 L627.32,371.28 L627.59,374.09 L627.86,376.69 L628.12,379.09 L628.39,381.27 L628.65,383.23 L628.92,384.97 L629.18,386.49 L629.45,387.77 L629.71,388.84 L629.98,389.67 L630.25,390.26 L630.51,390.63 L630.78,390.76 L631.04,390.65 L631.31,390.32 L631.57,389.76 L631.84,388.97 L632.11,387.95 L632.37,386.70 L632.64,385.24 L632.90,383.55 L633.17,381.64 L633.43,379.52 L633.70,377.19 L633.96,374.66 L634.23,371.92 L634.50,368.99 L634.76,365.87 L635.03,362.56 L635.29,359.07 L635.56,355.41 L635.82,351.58 L636.09,347.60 L636.36,343.46 L636.62,339.18 L636.89,334.77 L637.15,330.22 L637.42,325.56 L637.68,320.79 L637.95,315.91 L638.22,310.94 L638.48,305.88 L638.75,300.75 L639.01,295.56 L639.28,290.31 L639.54,285.01 L639.81,279.67 L640.07,274.31 L640.34,268.93 L640.61,263.54 L640.87,258.16 L641.14,252.78 L641.40,247.43 L641.67,242.12 L641.93,236.84 L642.20,231.61 L642.47,226.45 L642.73,221.36 L643.00,216.34 L643.26,211.42 L643.53,206.59 L643.79,201.87 L644.06,197.27 L644.32,192.78 L644.59,188.44 L644.86,184.23 L645.12,180.17 L645.39,176.26 L645.65,172.52 L645.92,168.94 L646.18,165.55 L646.45,162.33 L646.72,159.30 L646.98,156.47 L647.25,153.83 L647.51,151.40 L647.78,149.17 L648.04,147.16 L648.31,145.36 L648.58,143.79 L648.84,142.43 L649.11,141.30 L649.37,140.39 L649.64,139.72 L649.90,139.27 L650.17,139.05 L650.43,139.06 L650.70,139.31 L650.97,139.78 L651.23,140.49 L651.50,141.42 L651.76,142.58 L652.03,143.96 L652.29,145.57 L652.56,147.39 L652.83,149.43 L653.09,151.68 L653.36,154.15 L653.62,156.81 L653.89,159.68 L654.15,162.73 L654.42,165.98 L654.68,169.41 L654.95,173.02 L655.22,176.80 L655.48,180.74 L655.75,184.83 L656.01,189.08 L656.28,193.47 L656.54,197.99 L656.81,202.64 L657.08,207.40 L657.34,212.28 L657.61,217.25 L657.87,222.32 L658.14,227.47 L658.40,232.69 L658.67,237.97 L658.94,243.31 L659.20,248.70 L659.47,254.12 L659.73,259.56 L660.00,265.03 L660.26,270.49 L660.53,275.96 L660.79,281.41 L661.06,286.84 L661.33,292.23 L661.59,297.59 L661.86,302.89 L662.12,308.13 L662.39,313.30 L662.65,318.39 L662.92,323.39 L663.19,328.29 L663.45,333.09 L663.72,337.77 L663.98,342.32 L664.25,346.75 L664.51,351.04 L664.78,355.18 L665.04,359.16 L665.31,362.98 L665.58,366.64 L665.84,370.12 L666.11,373.42 L666.37,376.53 L666.64,379.45 L666.90,382.17 L667.17,384.69 L667.44,387.00 L667.70,389.10 L667.97,390.98 L668.23,392.65 L668.50,394.09 L668.76,395.31 L669.03,396.31 L669.30,397.08 L669.56,397.61 L669.83,397.92 L670.09,398.00 L670.36,397.84 L670.62,397.44 L670.89,396.81 L671.15,395.94 L671.42,394.83 L671.69,393.50 L671.95,391.93 L672.22,390.14 L672.48,388.12 L672.75,385.88 L673.01,383.42 L673.28,380.75 L673.55,377.87 L673.81,374.79 L674.08,371.51 L674.34,368.04 L674.61,364.38 L674.87,360.54 L675.14,356.52 L675.40,352.34 L675.67,348.00 L675.94,343.51 L676.20,338.88 L676.47,334.10 L676.73,329.20 L677.00,324.18 L677.26,319.05 L677.53,313.82 L677.80,308.49 L678.06,303.08 L678.33,297.59 L678.59,292.04 L678.86,286.43 L679.12,280.78 L679.39,275.09 L679.65,269.37 L679.92,263.63 L680.19,257.89 L680.45,252.15 L680.72,246.42 L680.98,240.72 L681.25,235.05 L681.51,229.42 L681.78,223.84 L682.05,218.32 L682.31,212.87 L682.58,207.51 L682.84,202.23 L683.11,197.05 L683.37,191.98 L683.64,187.02 L683.91,182.19 L684.17,177.49 L684.44,172.93 L684.70,168.52 L684.97,164.27 L685.23,160.18 L685.50,156.26 L685.76,152.52 L686.03,148.96 L686.30,145.59 L686.56,142.42 L686.83,139.45 L687.09,136.68 L687.36,134.13 L687.62,131.79 L687.89,129.67 L688.16,127.77 L688.42,126.10 L688.69,124.66 L688.95,123.45 L689.22,122.48 L689.48,121.73 L689.75,121.23 L690.01,120.96 L690.28,120.93 L690.55,121.14 L690.81,121.58 L691.08,122.26 L691.34,123.17 L691.61,124.31 L691.87,125.67 L692.14,127.27 L692.41,129.09 L692.67,131.13 L692.94,133.39 L693.20,135.86 L693.47,138.54 L693.73,141.42 L694.00,144.51 L694.27,147.78 L694.53,151.25 L694.80,154.90 L695.06,158.72 L695.33,162.71 L695.59,166.86 L695.86,171.17 L696.12,175.63 L696.39,180.22 L696.66,184.95 L696.92,189.79 L697.19,194.76 L697.45,199.82 L697.72,204.99 L697.98,210.24 L698.25,215.57 L698.52,220.97 L698.78,226.43 L699.05,231.94 L699.31,237.49 L699.58,243.07 L699.84,248.67 L700.11,254.28 L700.37,259.90 L700.64,265.50 L700.91,271.09 L701.17,276.65 L701.44,282.16 L701.70,287.64 L701.97,293.05 L702.23,298.40 L702.50,303.67 L702.50,430.8 Z" fill="#a0b4ff"/>
<line x1="49.5" y1="56.5" x2="49.5" y2="464.2" stroke="#000" stroke-width="1.6"/>
<line x1="743" y1="58" x2="743" y2="464.2" stroke="#222" stroke-width="1.6"/>
<line x1="45.5" y1="450.52" x2="49.5" y2="450.52" stroke="#333" stroke-width="1"/>
<line x1="45.5" y1="432.41" x2="49.5" y2="432.41" stroke="#333" stroke-width="1"/>
<line x1="42.3" y1="414.30" x2="49.5" y2="414.30" stroke="#333" stroke-width="1"/>
<text x="35.5" y="418.60" text-anchor="end" font-size="11.5" fill="#111">0.0 m</text>
<line x1="45.5" y1="396.19" x2="49.5" y2="396.19" stroke="#333" stroke-width="1"/>
<line x1="45.5" y1="378.08" x2="49.5" y2="378.08" stroke="#333" stroke-width="1"/>
<line x1="45.5" y1="359.97" x2="49.5" y2="359.97" stroke="#333" stroke-width="1"/>
<line x1="45.5" y1="341.86" x2="49.5" y2="341.86" stroke="#333" stroke-width="1"/>
<line x1="42.3" y1="323.75" x2="49.5" y2="323.75" stroke="#333" stroke-width="1"/>
<text x="35.5" y="328.05" text-anchor="end" font-size="11.5" fill="#111">0.5 m</text>
<line x1="45.5" y1="305.64" x2="49.5" y2="305.64" stroke="#333" stroke-width="1"/>
<line x1="45.5" y1="287.53" x2="49.5" y2="287.53" stroke="#333" stroke-width="1"/>
<line x1="45.5" y1="269.42" x2="49.5" y2="269.42" stroke="#333" stroke-width="1"/>
<line x1="45.5" y1="251.31" x2="49.5" y2="251.31" stroke="#333" stroke-width="1"/>
<line x1="42.3" y1="233.20" x2="49.5" y2="233.20" stroke="#333" stroke-width="1"/>
<text x="35.5" y="237.50" text-anchor="end" font-size="11.5" fill="#111">1.0 m</text>
<line x1="45.5" y1="215.09" x2="49.5" y2="215.09" stroke="#333" stroke-width="1"/>
<line x1="45.5" y1="196.98" x2="49.5" y2="196.98" stroke="#333" stroke-width="1"/>
<line x1="45.5" y1="178.87" x2="49.5" y2="178.87" stroke="#333" stroke-width="1"/>
<line x1="45.5" y1="160.76" x2="49.5" y2="160.76" stroke="#333" stroke-width="1"/>
<line x1="42.3" y1="142.65" x2="49.5" y2="142.65" stroke="#333" stroke-width="1"/>
<text x="35.5" y="146.95" text-anchor="end" font-size="11.5" fill="#111">1.5 m</text>
<line x1="45.5" y1="124.54" x2="49.5" y2="124.54" stroke="#333" stroke-width="1"/>
<line x1="45.5" y1="106.43" x2="49.5" y2="106.43" stroke="#333" stroke-width="1"/>
<line x1="45.5" y1="88.32" x2="49.5" y2="88.32" stroke="#333" stroke-width="1"/>
<line x1="45.5" y1="70.21" x2="49.5" y2="70.21" stroke="#333" stroke-width="1"/>
<line x1="743" y1="458.98" x2="746.5" y2="458.98" stroke="#333" stroke-width="1"/>
<line x1="743" y1="448.01" x2="746.5" y2="448.01" stroke="#333" stroke-width="1"/>
<line x1="743" y1="437.04" x2="746.5" y2="437.04" stroke="#333" stroke-width="1"/>
<line x1="743" y1="426.07" x2="746.5" y2="426.07" stroke="#333" stroke-width="1"/>
<line x1="743" y1="415.10" x2="750" y2="415.10" stroke="#333" stroke-width="1"/>
<text x="757" y="419.40" font-size="11.5" fill="#111">0 ft</text>
<line x1="743" y1="404.13" x2="746.5" y2="404.13" stroke="#333" stroke-width="1"/>
<line x1="743" y1="393.16" x2="746.5" y2="393.16" stroke="#333" stroke-width="1"/>
<line x1="743" y1="382.19" x2="746.5" y2="382.19" stroke="#333" stroke-width="1"/>
<line x1="743" y1="371.22" x2="746.5" y2="371.22" stroke="#333" stroke-width="1"/>
<line x1="743" y1="360.25" x2="750" y2="360.25" stroke="#333" stroke-width="1"/>
<text x="757" y="364.55" font-size="11.5" fill="#111">1 ft</text>
<line x1="743" y1="349.28" x2="746.5" y2="349.28" stroke="#333" stroke-width="1"/>
<line x1="743" y1="338.31" x2="746.5" y2="338.31" stroke="#333" stroke-width="1"/>
<line x1="743" y1="327.34" x2="746.5" y2="327.34" stroke="#333" stroke-width="1"/>
<line x1="743" y1="316.37" x2="746.5" y2="316.37" stroke="#333" stroke-width="1"/>
<line x1="743" y1="305.40" x2="750" y2="305.40" stroke="#333" stroke-width="1"/>
<text x="757" y="309.70" font-size="11.5" fill="#111">2 ft</text>
<line x1="743" y1="294.43" x2="746.5" y2="294.43" stroke="#333" stroke-width="1"/>
<line x1="743" y1="283.46" x2="746.5" y2="283.46" stroke="#333" stroke-width="1"/>
<line x1="743" y1="272.49" x2="746.5" y2="272.49" stroke="#333" stroke-width="1"/>
<line x1="743" y1="261.52" x2="746.5" y2="261.52" stroke="#333" stroke-width="1"/>
<line x1="743" y1="250.55" x2="750" y2="250.55" stroke="#333" stroke-width="1"/>
<text x="757" y="254.85" font-size="11.5" fill="#111">3 ft</text>
<line x1="743" y1="239.58" x2="746.5" y2="239.58" stroke="#333" stroke-width="1"/>
<line x1="743" y1="228.61" x2="746.5" y2="228.61" stroke="#333" stroke-width="1"/>
<line x1="743" y1="217.64" x2="746.5" y2="217.64" stroke="#333" stroke-width="1"/>
<line x1="743" y1="206.67" x2="746.5" y2="206.67" stroke="#333" stroke-width="1"/>
<line x1="743" y1="195.70" x2="750" y2="195.70" stroke="#333" stroke-width="1"/>
<text x="757" y="200.00" font-size="11.5" fill="#111">4 ft</text>
<line x1="743" y1="184.73" x2="746.5" y2="184.73" stroke="#333" stroke-width="1"/>
<line x1="743" y1="173.76" x2="746.5" y2="173.76" stroke="#333" stroke-width="1"/>
<line x1="743" y1="162.79" x2="746.5" y2="162.79" stroke="#333" stroke-width="1"/>
<line x1="743" y1="151.82" x2="746.5" y2="151.82" stroke="#333" stroke-width="1"/>
<line x1="743" y1="140.85" x2="750" y2="140.85" stroke="#333" stroke-width="1"/>
<text x="757" y="145.15" font-size="11.5" fill="#111">5 ft</text>
<line x1="743" y1="129.88" x2="746.5" y2="129.88" stroke="#333" stroke-width="1"/>
<line x1="743" y1="118.91" x2="746.5" y2="118.91" stroke="#333" stroke-width="1"/>
<line x1="743" y1="107.94" x2="746.5" y2="107.94" stroke="#333" stroke-width="1"/>
<line x1="743" y1="96.97" x2="746.5" y2="96.97" stroke="#333" stroke-width="1"/>
<line x1="743" y1="86.00" x2="750" y2="86.00" stroke="#333" stroke-width="1"/>
<text x="757" y="90.30" font-size="11.5" fill="#111">6 ft</text>
<line x1="743" y1="75.03" x2="746.5" y2="75.03" stroke="#333" stroke-width="1"/>
<line x1="743" y1="64.06" x2="746.5" y2="64.06" stroke="#333" stroke-width="1"/>
<text x="396" y="13.5" text-anchor="middle" font-size="16.7" fill="#111" xml:space="preserve">Haumoana River Mouth: rising  spring tide at 0.3m (0.9ft)</text>
<text x="396" y="28" text-anchor="middle" font-size="11" font-weight="bold" fill="#111">Image captured One hour and 16 minutes after low water. Times are NZST (UTC +12.0hrs)</text>
<text x="64.18" y="39.7" text-anchor="middle" font-size="10.8" fill="#cc1e1e">Wed</text>
<text x="64.18" y="51.7" text-anchor="middle" font-size="10.8" fill="#cc1e1e">06–Jul</text>
<text x="140.67" y="39.7" text-anchor="middle" font-size="10.8" fill="#cc1e1e">Thu</text>
<text x="140.67" y="51.7" text-anchor="middle" font-size="10.8" fill="#cc1e1e">07–Jul</text>
<text x="217.16" y="39.7" text-anchor="middle" font-size="10.8" fill="#cc1e1e">Fri</text>
<text x="217.16" y="51.7" text-anchor="middle" font-size="10.8" fill="#cc1e1e">08–Jul</text>
<text x="293.65" y="39.7" text-anchor="middle" font-size="10.8" fill="#cc1e1e">Sat</text>
<text x="293.65" y="51.7" text-anchor="middle" font-size="10.8" fill="#cc1e1e">09–Jul</text>
<text x="370.15" y="39.7" text-anchor="middle" font-size="10.8" fill="#cc1e1e">Sun</text>
<text x="370.15" y="51.7" text-anchor="middle" font-size="10.8" fill="#cc1e1e">10–Jul</text>
<text x="446.64" y="39.7" text-anchor="middle" font-size="10.8" fill="#cc1e1e">Mon</text>
<text x="446.64" y="51.7" text-anchor="middle" font-size="10.8" fill="#cc1e1e">11–Jul</text>
<text x="523.13" y="39.7" text-anchor="middle" font-size="10.8" fill="#cc1e1e">Tue</text>
<text x="523.13" y="51.7" text-anchor="middle" font-size="10.8" fill="#cc1e1e">12–Jul</text>
<text x="599.63" y="39.7" text-anchor="middle" font-size="10.8" fill="#cc1e1e">Wed</text>
<text x="599.63" y="51.7" text-anchor="middle" font-size="10.8" fill="#cc1e1e">13–Jul</text>
<text x="676.12" y="39.7" text-anchor="middle" font-size="10.8" fill="#cc1e1e">Thu</text>
<text x="676.12" y="51.7" text-anchor="middle" font-size="10.8" fill="#cc1e1e">14–Jul</text>
<circle cx="94.17" cy="113.67" r="1.8" fill="#000"/>
<text transform="translate(94.37,91.57) scale(0.93,1)" text-anchor="middle" font-size="9.9" fill="#111">9:36 pm</text>
<text transform="translate(94.37,100.27) scale(0.93,1)" text-anchor="middle" font-size="9.9" fill="#111">5.4 ft</text>
<text transform="translate(94.37,110.47) scale(0.93,1)" text-anchor="middle" font-size="9.9" fill="#111">1.66 m</text>
<circle cx="114.31" cy="403.43" r="1.8" fill="#000"/>
<text transform="translate(114.51,413.23) scale(0.93,1)" text-anchor="middle" font-size="9.9" fill="#111">0.06 m</text>
<text transform="translate(114.51,423.63) scale(0.93,1)" text-anchor="middle" font-size="9.9" fill="#111">0.2 ft</text>
<text transform="translate(114.51,431.93) scale(0.93,1)" text-anchor="middle" font-size="9.9" fill="#111">3:55 am</text>
<circle cx="133.91" cy="131.78" r="1.8" fill="#000"/>
<text transform="translate(134.11,109.68) scale(0.93,1)" text-anchor="middle" font-size="9.9" fill="#111">10:04 am</text>
<text transform="translate(134.11,118.38) scale(0.93,1)" text-anchor="middle" font-size="9.9" fill="#111">5.1 ft</text>
<text transform="translate(134.11,128.58) scale(0.93,1)" text-anchor="middle" font-size="9.9" fill="#111">1.56 m</text>
<circle cx="153.51" cy="399.81" r="1.8" fill="#000"/>
<text transform="translate(153.71,409.61) scale(0.93,1)" text-anchor="middle" font-size="9.9" fill="#111">0.08 m</text>
<text transform="translate(153.71,420.01) scale(0.93,1)" text-anchor="middle" font-size="9.9" fill="#111">0.3 ft</text>
<text transform="translate(153.71,428.31) scale(0.93,1)" text-anchor="middle" font-size="9.9" fill="#111">4:13 pm</text>
<circle cx="173.43" cy="115.49" r="1.8" fill="#000"/>
<text transform="translate(173.63,93.39) scale(0.93,1)" text-anchor="middle" font-size="9.9" fill="#111">10:28 pm</text>
<text transform="translate(173.63,102.09) scale(0.93,1)" text-anchor="middle" font-size="9.9" fill="#111">5.4 ft</text>
<text transform="translate(173.63,112.29) scale(0.93,1)" text-anchor="middle" font-size="9.9" fill="#111">1.65 m</text>
<circle cx="193.51" cy="405.25" r="1.8" fill="#000"/>
<text transform="translate(193.71,415.05) scale(0.93,1)" text-anchor="middle" font-size="9.9" fill="#111">0.05 m</text>
<text transform="translate(193.71,425.44) scale(0.93,1)" text-anchor="middle" font-size="9.9" fill="#111">0.2 ft</text>
<text transform="translate(193.71,433.75) scale(0.93,1)" text-anchor="middle" font-size="9.9" fill="#111">4:46 am</text>
<circle cx="213.32" cy="128.16" r="1.8" fill="#000"/>
<text transform="translate(213.52,106.06) scale(0.93,1)" text-anchor="middle" font-size="9.9" fill="#111">10:59 am</text>
<text transform="translate(213.52,114.76) scale(0.93,1)" text-anchor="middle" font-size="9.9" fill="#111">5.2 ft</text>
<text transform="translate(213.52,124.96) scale(0.93,1)" text-anchor="middle" font-size="9.9" fill="#111">1.58 m</text>
<circle cx="232.92" cy="398.00" r="1.8" fill="#000"/>
<text transform="translate(233.12,407.80) scale(0.93,1)" text-anchor="middle" font-size="9.9" fill="#111">0.09 m</text>
<text transform="translate(233.12,418.20) scale(0.93,1)" text-anchor="middle" font-size="9.9" fill="#111">0.3 ft</text>
<text transform="translate(233.12,426.50) scale(0.93,1)" text-anchor="middle" font-size="9.9" fill="#111">5:08 pm</text>
<circle cx="252.79" cy="119.11" r="1.8" fill="#000"/>
<text transform="translate(252.99,97.01) scale(0.93,1)" text-anchor="middle" font-size="9.9" fill="#111">11:22 pm</text>
<text transform="translate(252.99,105.71) scale(0.93,1)" text-anchor="middle" font-size="9.9" fill="#111">5.3 ft</text>
<text transform="translate(252.99,115.91) scale(0.93,1)" text-anchor="middle" font-size="9.9" fill="#111">1.63 m</text>
<circle cx="272.87" cy="405.25" r="1.8" fill="#000"/>
<text transform="translate(273.07,415.05) scale(0.93,1)" text-anchor="middle" font-size="9.9" fill="#111">0.05 m</text>
<text transform="translate(273.07,425.44) scale(0.93,1)" text-anchor="middle" font-size="9.9" fill="#111">0.2 ft</text>
<text transform="translate(273.07,433.75) scale(0.93,1)" text-anchor="middle" font-size="9.9" fill="#111">5:40 am</text>
<circle cx="292.79" cy="126.35" r="1.8" fill="#000"/>
<text transform="translate(292.99,104.25) scale(0.93,1)" text-anchor="middle" font-size="9.9" fill="#111">11:55 am</text>
<text transform="translate(292.99,112.95) scale(0.93,1)" text-anchor="middle" font-size="9.9" fill="#111">5.2 ft</text>
<text transform="translate(292.99,123.15) scale(0.93,1)" text-anchor="middle" font-size="9.9" fill="#111">1.59 m</text>
<circle cx="312.50" cy="396.19" r="1.8" fill="#000"/>
<text transform="translate(312.70,405.99) scale(0.93,1)" text-anchor="middle" font-size="9.9" fill="#111">0.10 m</text>
<text transform="translate(312.70,416.39) scale(0.93,1)" text-anchor="middle" font-size="9.9" fill="#111">0.3 ft</text>
<text transform="translate(312.70,424.69) scale(0.93,1)" text-anchor="middle" font-size="9.9" fill="#111">6:06 pm</text>
<circle cx="332.26" cy="122.73" r="1.8" fill="#000"/>
<text transform="translate(332.46,100.63) scale(0.93,1)" text-anchor="middle" font-size="9.9" fill="#111">12:18 am</text>
<text transform="translate(332.46,109.33) scale(0.93,1)" text-anchor="middle" font-size="9.9" fill="#111">5.3 ft</text>
<text transform="translate(332.46,119.53) scale(0.93,1)" text-anchor="middle" font-size="9.9" fill="#111">1.61 m</text>
<circle cx="352.23" cy="403.43" r="1.8" fill="#000"/>
<text transform="translate(352.43,413.23) scale(0.93,1)" text-anchor="middle" font-size="9.9" fill="#111">0.06 m</text>
<text transform="translate(352.43,423.63) scale(0.93,1)" text-anchor="middle" font-size="9.9" fill="#111">0.2 ft</text>
<text transform="translate(352.43,431.93) scale(0.93,1)" text-anchor="middle" font-size="9.9" fill="#111">6:34 am</text>
<circle cx="372.20" cy="124.54" r="1.8" fill="#000"/>
<text transform="translate(372.40,102.44) scale(0.93,1)" text-anchor="middle" font-size="9.9" fill="#111">12:50 pm</text>
<text transform="translate(372.40,111.14) scale(0.93,1)" text-anchor="middle" font-size="9.9" fill="#111">5.2 ft</text>
<text transform="translate(372.40,121.34) scale(0.93,1)" text-anchor="middle" font-size="9.9" fill="#111">1.60 m</text>
<circle cx="392.07" cy="394.38" r="1.8" fill="#000"/>
<text transform="translate(392.27,404.18) scale(0.93,1)" text-anchor="middle" font-size="9.9" fill="#111">0.11 m</text>
<text transform="translate(392.27,414.58) scale(0.93,1)" text-anchor="middle" font-size="9.9" fill="#111">0.4 ft</text>
<text transform="translate(392.27,422.88) scale(0.93,1)" text-anchor="middle" font-size="9.9" fill="#111">7:04 pm</text>
<circle cx="411.78" cy="128.16" r="1.8" fill="#000"/>
<text transform="translate(411.98,106.06) scale(0.93,1)" text-anchor="middle" font-size="9.9" fill="#111">1:15 am</text>
<text transform="translate(411.98,114.76) scale(0.93,1)" text-anchor="middle" font-size="9.9" fill="#111">5.2 ft</text>
<text transform="translate(411.98,124.96) scale(0.93,1)" text-anchor="middle" font-size="9.9" fill="#111">1.58 m</text>
<circle cx="431.70" cy="401.62" r="1.8" fill="#000"/>
<text transform="translate(431.90,411.42) scale(0.93,1)" text-anchor="middle" font-size="9.9" fill="#111">0.07 m</text>
<text transform="translate(431.90,421.82) scale(0.93,1)" text-anchor="middle" font-size="9.9" fill="#111">0.2 ft</text>
<text transform="translate(431.90,430.12) scale(0.93,1)" text-anchor="middle" font-size="9.9" fill="#111">7:30 am</text>
<circle cx="451.72" cy="122.73" r="1.8" fill="#000"/>
<text transform="translate(451.92,100.63) scale(0.93,1)" text-anchor="middle" font-size="9.9" fill="#111">1:47 pm</text>
<text transform="translate(451.92,109.33) scale(0.93,1)" text-anchor="middle" font-size="9.9" fill="#111">5.3 ft</text>
<text transform="translate(451.92,119.53) scale(0.93,1)" text-anchor="middle" font-size="9.9" fill="#111">1.61 m</text>
<circle cx="471.64" cy="392.57" r="1.8" fill="#000"/>
<text transform="translate(471.84,402.37) scale(0.93,1)" text-anchor="middle" font-size="9.9" fill="#111">0.12 m</text>
<text transform="translate(471.84,412.77) scale(0.93,1)" text-anchor="middle" font-size="9.9" fill="#111">0.4 ft</text>
<text transform="translate(471.84,421.07) scale(0.93,1)" text-anchor="middle" font-size="9.9" fill="#111">8:02 pm</text>
<circle cx="491.25" cy="133.60" r="1.8" fill="#000"/>
<text transform="translate(491.45,111.50) scale(0.93,1)" text-anchor="middle" font-size="9.9" fill="#111">2:11 am</text>
<text transform="translate(491.45,120.20) scale(0.93,1)" text-anchor="middle" font-size="9.9" fill="#111">5.1 ft</text>
<text transform="translate(491.45,130.40) scale(0.93,1)" text-anchor="middle" font-size="9.9" fill="#111">1.55 m</text>
<circle cx="511.17" cy="401.62" r="1.8" fill="#000"/>
<text transform="translate(511.37,411.42) scale(0.93,1)" text-anchor="middle" font-size="9.9" fill="#111">0.07 m</text>
<text transform="translate(511.37,421.82) scale(0.93,1)" text-anchor="middle" font-size="9.9" fill="#111">0.2 ft</text>
<text transform="translate(511.37,430.12) scale(0.93,1)" text-anchor="middle" font-size="9.9" fill="#111">8:26 am</text>
<circle cx="531.35" cy="122.73" r="1.8" fill="#000"/>
<text transform="translate(531.55,100.63) scale(0.93,1)" text-anchor="middle" font-size="9.9" fill="#111">2:46 pm</text>
<text transform="translate(531.55,109.33) scale(0.93,1)" text-anchor="middle" font-size="9.9" fill="#111">5.3 ft</text>
<text transform="translate(531.55,119.53) scale(0.93,1)" text-anchor="middle" font-size="9.9" fill="#111">1.61 m</text>
<circle cx="551.27" cy="390.76" r="1.8" fill="#000"/>
<text transform="translate(551.47,400.56) scale(0.93,1)" text-anchor="middle" font-size="9.9" fill="#111">0.13 m</text>
<text transform="translate(551.47,410.96) scale(0.93,1)" text-anchor="middle" font-size="9.9" fill="#111">0.4 ft</text>
<text transform="translate(551.47,419.26) scale(0.93,1)" text-anchor="middle" font-size="9.9" fill="#111">9:01 pm</text>
<circle cx="570.82" cy="137.22" r="1.8" fill="#000"/>
<text transform="translate(571.02,115.12) scale(0.93,1)" text-anchor="middle" font-size="9.9" fill="#111">3:09 am</text>
<text transform="translate(571.02,123.82) scale(0.93,1)" text-anchor="middle" font-size="9.9" fill="#111">5.0 ft</text>
<text transform="translate(571.02,134.02) scale(0.93,1)" text-anchor="middle" font-size="9.9" fill="#111">1.53 m</text>
<circle cx="590.58" cy="399.81" r="1.8" fill="#000"/>
<text transform="translate(590.78,409.61) scale(0.93,1)" text-anchor="middle" font-size="9.9" fill="#111">0.08 m</text>
<text transform="translate(590.78,420.01) scale(0.93,1)" text-anchor="middle" font-size="9.9" fill="#111">0.3 ft</text>
<text transform="translate(590.78,428.31) scale(0.93,1)" text-anchor="middle" font-size="9.9" fill="#111">9:21 am</text>
<circle cx="610.77" cy="120.92" r="1.8" fill="#000"/>
<text transform="translate(610.97,98.82) scale(0.93,1)" text-anchor="middle" font-size="9.9" fill="#111">3:41 pm</text>
<text transform="translate(610.97,107.52) scale(0.93,1)" text-anchor="middle" font-size="9.9" fill="#111">5.3 ft</text>
<text transform="translate(610.97,117.72) scale(0.93,1)" text-anchor="middle" font-size="9.9" fill="#111">1.62 m</text>
<circle cx="630.79" cy="390.76" r="1.8" fill="#000"/>
<text transform="translate(630.99,400.56) scale(0.93,1)" text-anchor="middle" font-size="9.9" fill="#111">0.13 m</text>
<text transform="translate(630.99,410.96) scale(0.93,1)" text-anchor="middle" font-size="9.9" fill="#111">0.4 ft</text>
<text transform="translate(630.99,419.26) scale(0.93,1)" text-anchor="middle" font-size="9.9" fill="#111">9:58 pm</text>
<circle cx="650.29" cy="139.03" r="1.8" fill="#000"/>
<text transform="translate(650.49,116.93) scale(0.93,1)" text-anchor="middle" font-size="9.9" fill="#111">4:05 am</text>
<text transform="translate(650.49,125.63) scale(0.93,1)" text-anchor="middle" font-size="9.9" fill="#111">5.0 ft</text>
<text transform="translate(650.49,135.83) scale(0.93,1)" text-anchor="middle" font-size="9.9" fill="#111">1.52 m</text>
<circle cx="670.05" cy="398.00" r="1.8" fill="#000"/>
<text transform="translate(670.25,407.80) scale(0.93,1)" text-anchor="middle" font-size="9.9" fill="#111">0.09 m</text>
<text transform="translate(670.25,418.20) scale(0.93,1)" text-anchor="middle" font-size="9.9" fill="#111">0.3 ft</text>
<text transform="translate(670.25,426.50) scale(0.93,1)" text-anchor="middle" font-size="9.9" fill="#111">10:17 am</text>
<circle cx="690.18" cy="120.92" r="1.8" fill="#000"/>
<text transform="translate(690.38,98.82) scale(0.93,1)" text-anchor="middle" font-size="9.9" fill="#111">4:36 pm</text>
<text transform="translate(690.38,107.52) scale(0.93,1)" text-anchor="middle" font-size="9.9" fill="#111">5.3 ft</text>
<text transform="translate(690.38,117.72) scale(0.93,1)" text-anchor="middle" font-size="9.9" fill="#111">1.62 m</text>
<path d="M396.11,354.47 L400.61,362.47 L391.61,362.47 Z" fill="#f0e030" stroke="#b08020" stroke-width="0.6"/>
<text x="45.6" y="478.5" text-anchor="end" font-size="11" fill="#111">Sunrise</text>
<text x="747" y="478.5" font-size="11" fill="#111">Sunrise</text>
<text x="45.6" y="492.5" text-anchor="end" font-size="11" fill="#111">Sunset</text>
<text x="747" y="492.5" font-size="11" fill="#111">Sunset</text>
<text x="45.6" y="505.6" text-anchor="end" font-size="11" fill="#111">Moonrise</text>
<text x="747" y="505.6" font-size="11" fill="#111">Moonrise</text>
<text x="45.6" y="519.5" text-anchor="end" font-size="11" fill="#111">Moonset</text>
<text x="747" y="519.5" font-size="11" fill="#111">Moonset</text>
<polygon points="125.83,467.60 127.60,472.37 132.68,472.58 128.69,475.73 130.07,480.62 125.83,477.80 121.60,480.62 122.98,475.73 118.99,472.58 124.07,472.37" fill="#b4b44a" stroke="#a09070" stroke-width="0.7"/><circle cx="125.83" cy="474.80" r="4.4" fill="#b4b84a" stroke="#8a3a18" stroke-width="0.8" stroke-dasharray="1.2,0.9"/>
<text x="132.63" y="477.5" font-size="9.6" fill="#111">7:32am</text>
<polygon points="202.27,467.60 204.04,472.37 209.12,472.58 205.13,475.73 206.50,480.62 202.27,477.80 198.04,480.62 199.42,475.73 195.43,472.58 200.51,472.37" fill="#b4b44a" stroke="#a09070" stroke-width="0.7"/><circle cx="202.27" cy="474.80" r="4.4" fill="#b4b84a" stroke="#8a3a18" stroke-width="0.8" stroke-dasharray="1.2,0.9"/>
<text x="209.07" y="477.5" font-size="9.6" fill="#111">7:31am</text>
<polygon points="278.77,467.60 280.53,472.37 285.61,472.58 281.62,475.73 283.00,480.62 278.77,477.80 274.53,480.62 275.91,475.73 271.92,472.58 277.00,472.37" fill="#b4b44a" stroke="#a09070" stroke-width="0.7"/><circle cx="278.77" cy="474.80" r="4.4" fill="#b4b84a" stroke="#8a3a18" stroke-width="0.8" stroke-dasharray="1.2,0.9"/>
<text x="285.57" y="477.5" font-size="9.6" fill="#111">7:31am</text>
<polygon points="355.26,467.60 357.02,472.37 362.11,472.58 358.11,475.73 359.49,480.62 355.26,477.80 351.03,480.62 352.41,475.73 348.41,472.58 353.49,472.37" fill="#b4b44a" stroke="#a09070" stroke-width="0.7"/><circle cx="355.26" cy="474.80" r="4.4" fill="#b4b84a" stroke="#8a3a18" stroke-width="0.8" stroke-dasharray="1.2,0.9"/>
<text x="362.06" y="477.5" font-size="9.6" fill="#111">7:31am</text>
<polygon points="431.75,467.60 433.51,472.37 438.60,472.58 434.60,475.73 435.98,480.62 431.75,477.80 427.52,480.62 428.90,475.73 424.90,472.58 429.99,472.37" fill="#b4b44a" stroke="#a09070" stroke-width="0.7"/><circle cx="431.75" cy="474.80" r="4.4" fill="#b4b84a" stroke="#8a3a18" stroke-width="0.8" stroke-dasharray="1.2,0.9"/>
<text x="438.55" y="477.5" font-size="9.6" fill="#111">7:31am</text>
<polygon points="508.19,467.60 509.95,472.37 515.04,472.58 511.04,475.73 512.42,480.62 508.19,477.80 503.96,480.62 505.34,475.73 501.34,472.58 506.43,472.37" fill="#b4b44a" stroke="#a09070" stroke-width="0.7"/><circle cx="508.19" cy="474.80" r="4.4" fill="#b4b84a" stroke="#8a3a18" stroke-width="0.8" stroke-dasharray="1.2,0.9"/>
<text x="514.99" y="477.5" font-size="9.6" fill="#111">7:30am</text>
<polygon points="584.68,467.60 586.45,472.37 591.53,472.58 587.54,475.73 588.92,480.62 584.68,477.80 580.45,480.62 581.83,475.73 577.84,472.58 582.92,472.37" fill="#b4b44a" stroke="#a09070" stroke-width="0.7"/><circle cx="584.68" cy="474.80" r="4.4" fill="#b4b84a" stroke="#8a3a18" stroke-width="0.8" stroke-dasharray="1.2,0.9"/>
<text x="591.48" y="477.5" font-size="9.6" fill="#111">7:30am</text>
<polygon points="661.12,467.60 662.89,472.37 667.97,472.58 663.98,475.73 665.36,480.62 661.12,477.80 656.89,480.62 658.27,475.73 654.28,472.58 659.36,472.37" fill="#b4b44a" stroke="#a09070" stroke-width="0.7"/><circle cx="661.12" cy="474.80" r="4.4" fill="#b4b84a" stroke="#8a3a18" stroke-width="0.8" stroke-dasharray="1.2,0.9"/>
<text x="667.92" y="477.5" font-size="9.6" fill="#111">7:29am</text>
<polygon points="156.06,481.30 157.82,486.07 162.91,486.28 158.91,489.43 160.29,494.32 156.06,491.50 151.83,494.32 153.21,489.43 149.21,486.28 154.29,486.07" fill="#8a5a20" stroke="#707050" stroke-width="0.7"/><circle cx="156.06" cy="488.50" r="4.4" fill="#d83a30" stroke="#405010" stroke-width="0.8" stroke-dasharray="1.2,0.9"/>
<text x="162.86" y="491.5" font-size="9.6" fill="#111">5:01pm</text>
<polygon points="232.60,481.30 234.37,486.07 239.45,486.28 235.46,489.43 236.84,494.32 232.60,491.50 228.37,494.32 229.75,489.43 225.76,486.28 230.84,486.07" fill="#8a5a20" stroke="#707050" stroke-width="0.7"/><circle cx="232.60" cy="488.50" r="4.4" fill="#d83a30" stroke="#405010" stroke-width="0.8" stroke-dasharray="1.2,0.9"/>
<text x="239.40" y="491.5" font-size="9.6" fill="#111">5:02pm</text>
<polygon points="309.15,481.30 310.91,486.07 316.00,486.28 312.00,489.43 313.38,494.32 309.15,491.50 304.92,494.32 306.30,489.43 302.30,486.28 307.39,486.07" fill="#8a5a20" stroke="#707050" stroke-width="0.7"/><circle cx="309.15" cy="488.50" r="4.4" fill="#d83a30" stroke="#405010" stroke-width="0.8" stroke-dasharray="1.2,0.9"/>
<text x="315.95" y="491.5" font-size="9.6" fill="#111">5:03pm</text>
<polygon points="385.64,481.30 387.41,486.07 392.49,486.28 388.50,489.43 389.88,494.32 385.64,491.50 381.41,494.32 382.79,489.43 378.80,486.28 383.88,486.07" fill="#8a5a20" stroke="#707050" stroke-width="0.7"/><circle cx="385.64" cy="488.50" r="4.4" fill="#d83a30" stroke="#405010" stroke-width="0.8" stroke-dasharray="1.2,0.9"/>
<text x="392.44" y="491.5" font-size="9.6" fill="#111">5:03pm</text>
<polygon points="462.19,481.30 463.95,486.07 469.04,486.28 465.04,489.43 466.42,494.32 462.19,491.50 457.96,494.32 459.34,489.43 455.34,486.28 460.43,486.07" fill="#8a5a20" stroke="#707050" stroke-width="0.7"/><circle cx="462.19" cy="488.50" r="4.4" fill="#d83a30" stroke="#405010" stroke-width="0.8" stroke-dasharray="1.2,0.9"/>
<text x="468.99" y="491.5" font-size="9.6" fill="#111">5:04pm</text>
<polygon points="538.73,481.30 540.50,486.07 545.58,486.28 541.59,489.43 542.97,494.32 538.73,491.50 534.50,494.32 535.88,489.43 531.89,486.28 536.97,486.07" fill="#8a5a20" stroke="#707050" stroke-width="0.7"/><circle cx="538.73" cy="488.50" r="4.4" fill="#d83a30" stroke="#405010" stroke-width="0.8" stroke-dasharray="1.2,0.9"/>
<text x="545.53" y="491.5" font-size="9.6" fill="#111">5:05pm</text>
<polygon points="615.23,481.30 616.99,486.07 622.08,486.28 618.08,489.43 619.46,494.32 615.23,491.50 611.00,494.32 612.37,489.43 608.38,486.28 613.46,486.07" fill="#8a5a20" stroke="#707050" stroke-width="0.7"/><circle cx="615.23" cy="488.50" r="4.4" fill="#d83a30" stroke="#405010" stroke-width="0.8" stroke-dasharray="1.2,0.9"/>
<text x="622.03" y="491.5" font-size="9.6" fill="#111">5:05pm</text>
<circle cx="135.98" cy="501.6" r="5" fill="#ffffc0" stroke="#999" stroke-width="1"/>
<text x="143.18" y="506.3" font-size="9.5" fill="#111">10:43am</text>
<circle cx="214.12" cy="501.6" r="5" fill="#ffffc0" stroke="#999" stroke-width="1"/>
<text x="221.32" y="506.3" font-size="9.5" fill="#111">11:14am</text>
<circle cx="292.42" cy="501.6" r="5" fill="#ffffc0" stroke="#999" stroke-width="1"/>
<text x="299.62" y="506.3" font-size="9.5" fill="#111">11:48am</text>
<circle cx="370.93" cy="501.6" r="5" fill="#ffffc0" stroke="#999" stroke-width="1"/>
<text x="378.13" y="506.3" font-size="9.5" fill="#111">12:26pm</text>
<circle cx="449.76" cy="501.6" r="5" fill="#ffffc0" stroke="#999" stroke-width="1"/>
<text x="456.96" y="506.3" font-size="9.5" fill="#111">1:10pm</text>
<circle cx="528.96" cy="501.6" r="5" fill="#ffffc0" stroke="#999" stroke-width="1"/>
<text x="536.16" y="506.3" font-size="9.5" fill="#111">2:01pm</text>
<circle cx="608.53" cy="501.6" r="5" fill="#ffffc0" stroke="#999" stroke-width="1"/>
<text x="615.73" y="506.3" font-size="9.5" fill="#111">2:59pm</text>
<circle cx="688.32" cy="501.6" r="5" fill="#ffffc0" stroke="#999" stroke-width="1"/>
<text x="695.52" y="506.3" font-size="9.5" fill="#111">4:01pm</text>
<circle cx="97.10" cy="515.5" r="5" fill="#c8c4b8" stroke="#888" stroke-width="1"/>
<text x="104.30" y="520.1" font-size="9.5" fill="#111">10:31pm</text>
<circle cx="177.31" cy="515.5" r="5" fill="#c8c4b8" stroke="#888" stroke-width="1"/>
<text x="184.51" y="520.1" font-size="9.5" fill="#111">11:41pm</text>
<circle cx="257.57" cy="515.5" r="5" fill="#c8c4b8" stroke="#888" stroke-width="1"/>
<text x="264.77" y="520.1" font-size="9.5" fill="#111">12:52am</text>
<circle cx="337.83" cy="515.5" r="5" fill="#c8c4b8" stroke="#888" stroke-width="1"/>
<text x="345.03" y="520.1" font-size="9.5" fill="#111">2:03am</text>
<circle cx="418.05" cy="515.5" r="5" fill="#c8c4b8" stroke="#888" stroke-width="1"/>
<text x="425.25" y="520.1" font-size="9.5" fill="#111">3:13am</text>
<circle cx="498.10" cy="515.5" r="5" fill="#c8c4b8" stroke="#888" stroke-width="1"/>
<text x="505.30" y="520.1" font-size="9.5" fill="#111">4:20am</text>
<circle cx="577.88" cy="515.5" r="5" fill="#c8c4b8" stroke="#888" stroke-width="1"/>
<text x="585.08" y="520.1" font-size="9.5" fill="#111">5:22am</text>
<circle cx="657.25" cy="515.5" r="5" fill="#c8c4b8" stroke="#888" stroke-width="1"/>
<text x="664.45" y="520.1" font-size="9.5" fill="#111">6:16am</text>
<text x="180.6" y="533.1" font-size="9.45" fill="#111">First Quarter | 6:29pm</text>
</svg>
</body></html>
